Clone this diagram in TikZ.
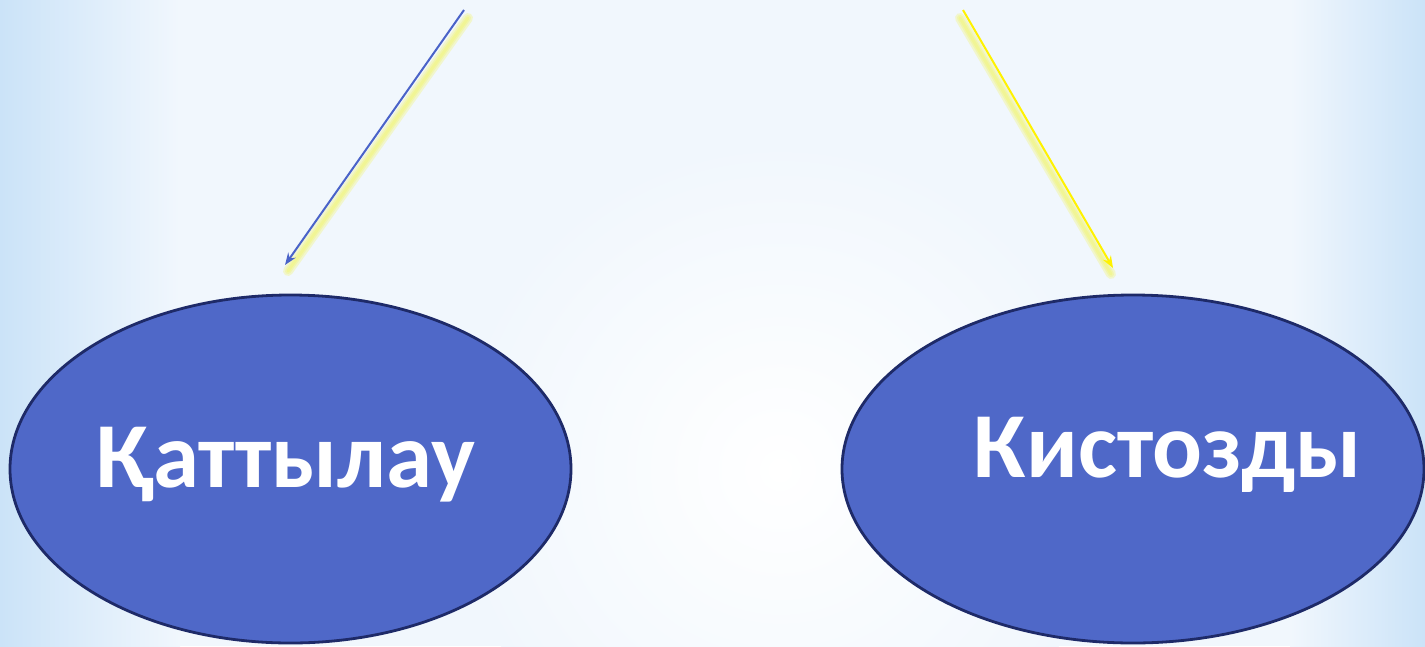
\documentclass[tikz,border=0pt]{standalone}
\usepackage{fontspec}
\setmainfont{Carlito}
\usetikzlibrary{shapes.geometric,arrows.meta,calc}
\definecolor{ellfill}{HTML}{4F68C8}
\definecolor{elldraw}{HTML}{1E2A68}
\definecolor{bgblue}{HTML}{CBE3F8}
\definecolor{bgpale}{HTML}{F1F7FD}
\definecolor{arrblue}{HTML}{4A63C8}
\definecolor{glow}{HTML}{F2F560}
\tikzset{
  blob/.style={ellipse, draw=elldraw, line width=2.8pt, fill=ellfill, inner sep=0pt},
  lbl/.style={text=white, font=\bfseries\fontsize{93}{100}\selectfont, anchor=base, inner sep=0pt},
  glowline/.style={line width=#1, glow, opacity=0.3, line cap=round},
  arr/.style={-{Stealth[length=12pt,width=9pt]}, line width=2pt}
}
\begin{document}
\begin{tikzpicture}[x=1pt,y=-1pt]
  \useasboundingbox (0,0) rectangle (1425,646);
  \fill[bgpale] (0,0) rectangle (1425,646);
  \shade[inner color=white, outer color=bgpale] (780,470) circle (330);
  \shade[left color=bgblue, right color=bgpale] (0,0) rectangle (180,646);
  \shade[right color=bgblue, left color=bgpale] (1290,0) rectangle (1425,646);
  % ellipses
  \node[blob, minimum width=561pt, minimum height=348pt] (L) at (290.5,469) {};
  \node[blob, minimum width=582pt, minimum height=348pt] (R) at (1133,469) {};
  \node[lbl] (tL) at (285.5,487) {Қаттылау};
  \node[lbl] (tR) at (1168,477) {Кистозды};
  % arrows
  \coordinate (a1s) at (464,10);
  \coordinate (a1e) at (285,265);
  \coordinate (a2s) at (963,10);
  \coordinate (a2e) at (1113,268);
  \foreach \w in {10,6,3} {
    \draw[glowline=\w pt] ($(a1s)+(4,8)$) -- ($(a1e)+(3,6)$);
    \draw[glowline=\w pt] ($(a2s)+(-3,8)$) -- ($(a2e)+(-2,6)$);
  }
  \draw[arr, arrblue] (a1s) -- (a1e);
  \draw[arr, yellow] (a2s) -- (a2e);
\end{tikzpicture}
\end{document}
